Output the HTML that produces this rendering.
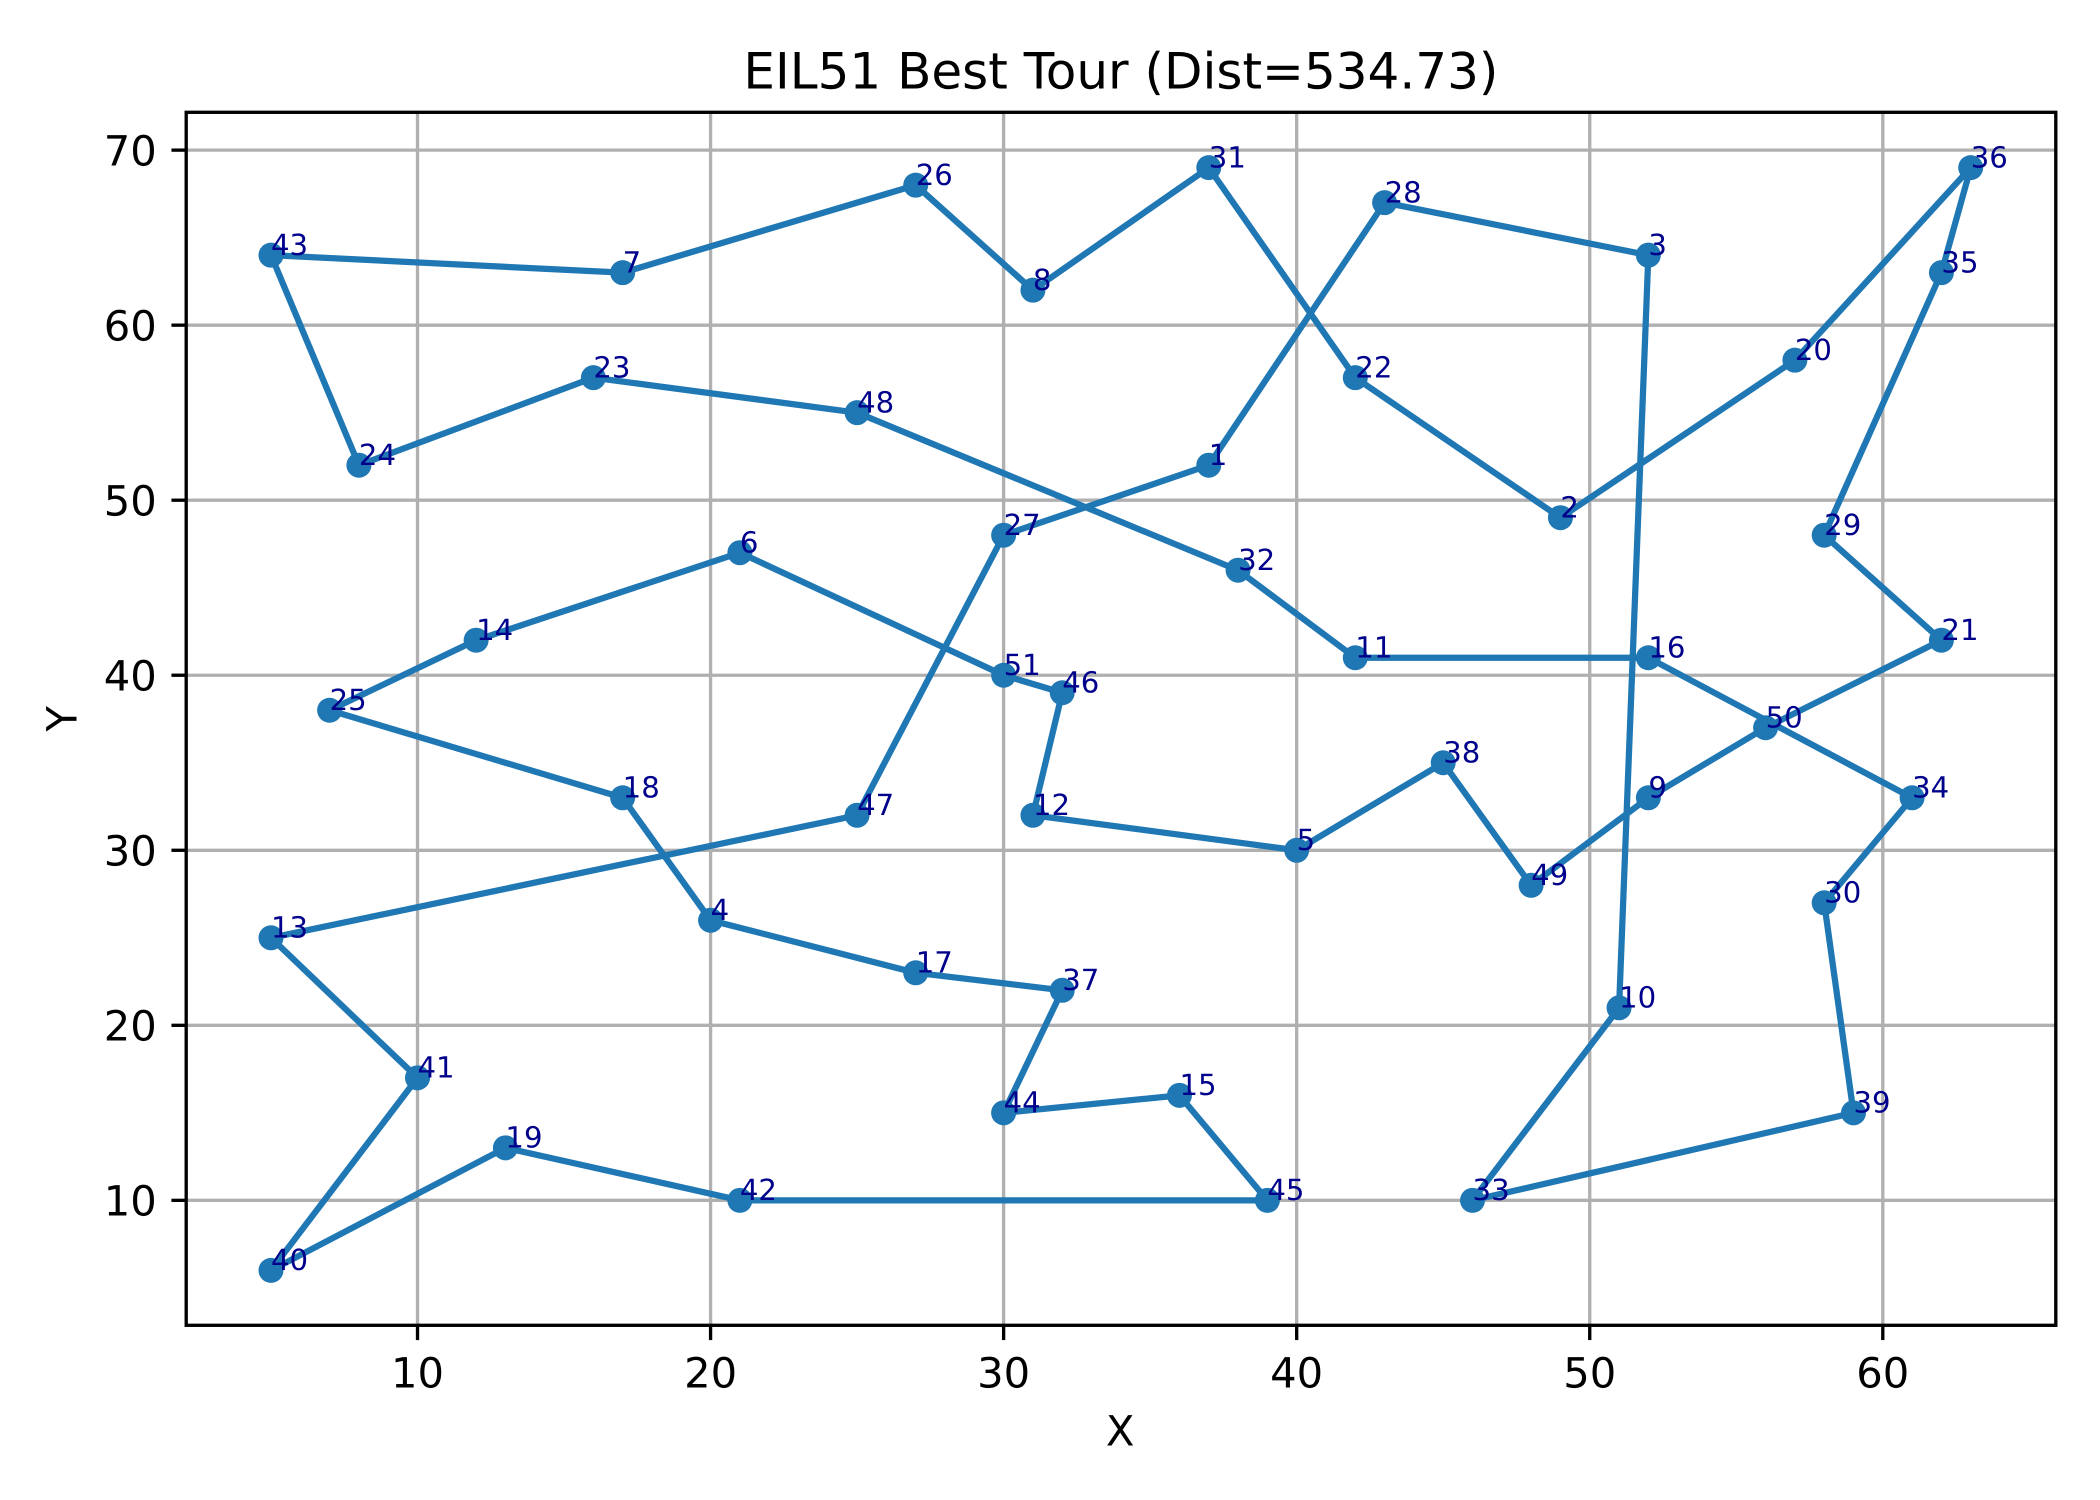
<!DOCTYPE html>
<html lang="en">
<head>
<meta charset="utf-8">
<title>EIL51 Best Tour</title>
<style>
  html, body { margin: 0; padding: 0; background: #ffffff; }
  body { width: 2100px; height: 1500px; overflow: hidden; }
  svg { display: block; }
  text { font-family: "DejaVu Sans", "Liberation Sans", sans-serif; text-rendering: geometricPrecision; fill: #000000; }
</style>
</head>
<body>
<svg id="chart" xmlns="http://www.w3.org/2000/svg" width="2100" height="1500" viewBox="0 0 2100 1500">
  <rect x="0" y="0" width="2100" height="1500" fill="#ffffff"/>
  <g id="grid"></g>
  <g id="series"></g>
  <g id="labels"></g>
  <g id="ticks"></g>
  <rect x="186.2" y="112.3" width="1869.6" height="1213" fill="none" stroke="#000000" stroke-width="3.33" stroke-linejoin="miter"/>
  <text x="1120.9" y="88.3" font-size="50" text-anchor="middle">EIL51 Best Tour (Dist=534.73)</text>
  <text x="1120.2" y="1445.7" font-size="41.67" text-anchor="middle">X</text>
  <text x="0" y="0" font-size="41.67" text-anchor="middle" transform="translate(76.7 718.8) rotate(-90)">Y</text>
</svg>
<script>
// City ids, 1-based, in the same order as the coordinates below.
const cityIds = [1,2,3,4,5,6,7,8,9,10,11,12,13,14,15,16,17,18,19,20,21,22,23,24,25,26,27,28,29,30,31,32,33,34,35,36,37,38,39,40,41,42,43,44,45,46,47,48,49,50,51];
const cityX = [37,49,52,20,40,21,17,31,52,51,42,31,5,12,36,52,27,17,13,57,62,42,16,8,7,27,30,43,58,58,37,38,46,61,62,63,32,45,59,5,10,21,5,30,39,32,25,25,48,56,30];
const cityY = [52,49,64,26,30,47,63,62,33,21,41,32,25,42,16,41,23,33,13,58,42,57,57,52,38,68,48,67,48,27,69,46,10,33,63,69,22,35,15,6,17,10,64,15,10,39,32,55,28,37,40];
// Visiting order of the best tour; it returns to the first city.
const tourOrder = [43,7,26,8,31,22,2,20,36,35,29,21,50,9,49,38,5,12,46,51,6,14,25,18,4,17,37,44,15,45,42,19,40,41,13,47,27,1,28,3,10,33,39,30,34,16,11,32,48,23,24,43];
const xTickValues = [10,20,30,40,50,60];
const yTickValues = [10,20,30,40,50,60,70];

const SVG_NS = 'http://www.w3.org/2000/svg';
const plotLeft = 186, plotRight = 2055.7, plotTop = 112.5, plotBottom = 1325.5;

function paddedDomain(values) {
  const lo = Math.min.apply(null, values);
  const hi = Math.max.apply(null, values);
  const pad = (hi - lo) * 0.05;
  return [lo - pad, hi + pad];
}
const xDomain = paddedDomain(tourOrder.map(function (id) { return cityX[cityIds.indexOf(id)]; }));
const yDomain = paddedDomain(tourOrder.map(function (id) { return cityY[cityIds.indexOf(id)]; }));

function xScale(v) {
  return plotLeft + (v - xDomain[0]) / (xDomain[1] - xDomain[0]) * (plotRight - plotLeft);
}
function yScale(v) {
  return plotBottom - (v - yDomain[0]) / (yDomain[1] - yDomain[0]) * (plotBottom - plotTop);
}
function make(tag, attrs, parent) {
  const el = document.createElementNS(SVG_NS, tag);
  Object.keys(attrs).forEach(function (k) { el.setAttribute(k, attrs[k]); });
  parent.appendChild(el);
  return el;
}

const gridGroup = document.getElementById('grid');
const tickGroup = document.getElementById('ticks');
const seriesGroup = document.getElementById('series');
const labelGroup = document.getElementById('labels');

xTickValues.forEach(function (v) {
  const px = xScale(v);
  const gridLine = make('line', { x1: px, x2: px, y1: plotTop, y2: plotBottom, stroke: '#b0b0b0', 'stroke-width': 3.33 }, gridGroup);
  
  
  const tick = make('line', { x1: px, x2: px, y1: plotBottom, y2: plotBottom + 14.58, stroke: '#000000', 'stroke-width': 3.33 }, tickGroup);
  
  
  const label = make('text', { x: px, y: 1387.7, 'font-size': 41.67, 'text-anchor': 'middle' }, tickGroup);
  
  
  label.textContent = String(v);
});

yTickValues.forEach(function (v) {
  const py = yScale(v);
  const gridLine = make('line', { x1: plotLeft, x2: plotRight, y1: py, y2: py, stroke: '#b0b0b0', 'stroke-width': 3.33 }, gridGroup);
  
  
  const tick = make('line', { x1: plotLeft - 14.58, x2: plotLeft, y1: py, y2: py, stroke: '#000000', 'stroke-width': 3.33 }, tickGroup);
  
  
  const label = make('text', { x: plotLeft - 29.2, y: py + 15.2, 'font-size': 41.67, 'text-anchor': 'end' }, tickGroup);
  
  
  label.textContent = String(v);
});

const tourPoints = tourOrder.map(function (id) {
  const i = cityIds.indexOf(id);
  return xScale(cityX[i]).toFixed(2) + ',' + yScale(cityY[i]).toFixed(2);
}).join(' ');
const tourLine = make('polyline', { points: tourPoints, fill: 'none', stroke: '#1f77b4', 'stroke-width': 6.25, 'stroke-linejoin': 'round', 'stroke-linecap': 'square' }, seriesGroup);



tourOrder.slice(0, -1).forEach(function (id) {
  const i = cityIds.indexOf(id);
  const dot = make('circle', { cx: xScale(cityX[i]), cy: yScale(cityY[i]), r: 12.5, fill: '#1f77b4' }, seriesGroup);
  
  
});

cityIds.forEach(function (id, i) {
  const label = make('text', { x: xScale(cityX[i]), y: yScale(cityY[i]) - 0.3, 'font-size': 29.17, style: 'fill:#00008b' }, labelGroup);
  
  
  label.textContent = String(id);
});
</script>
</body>
</html>
